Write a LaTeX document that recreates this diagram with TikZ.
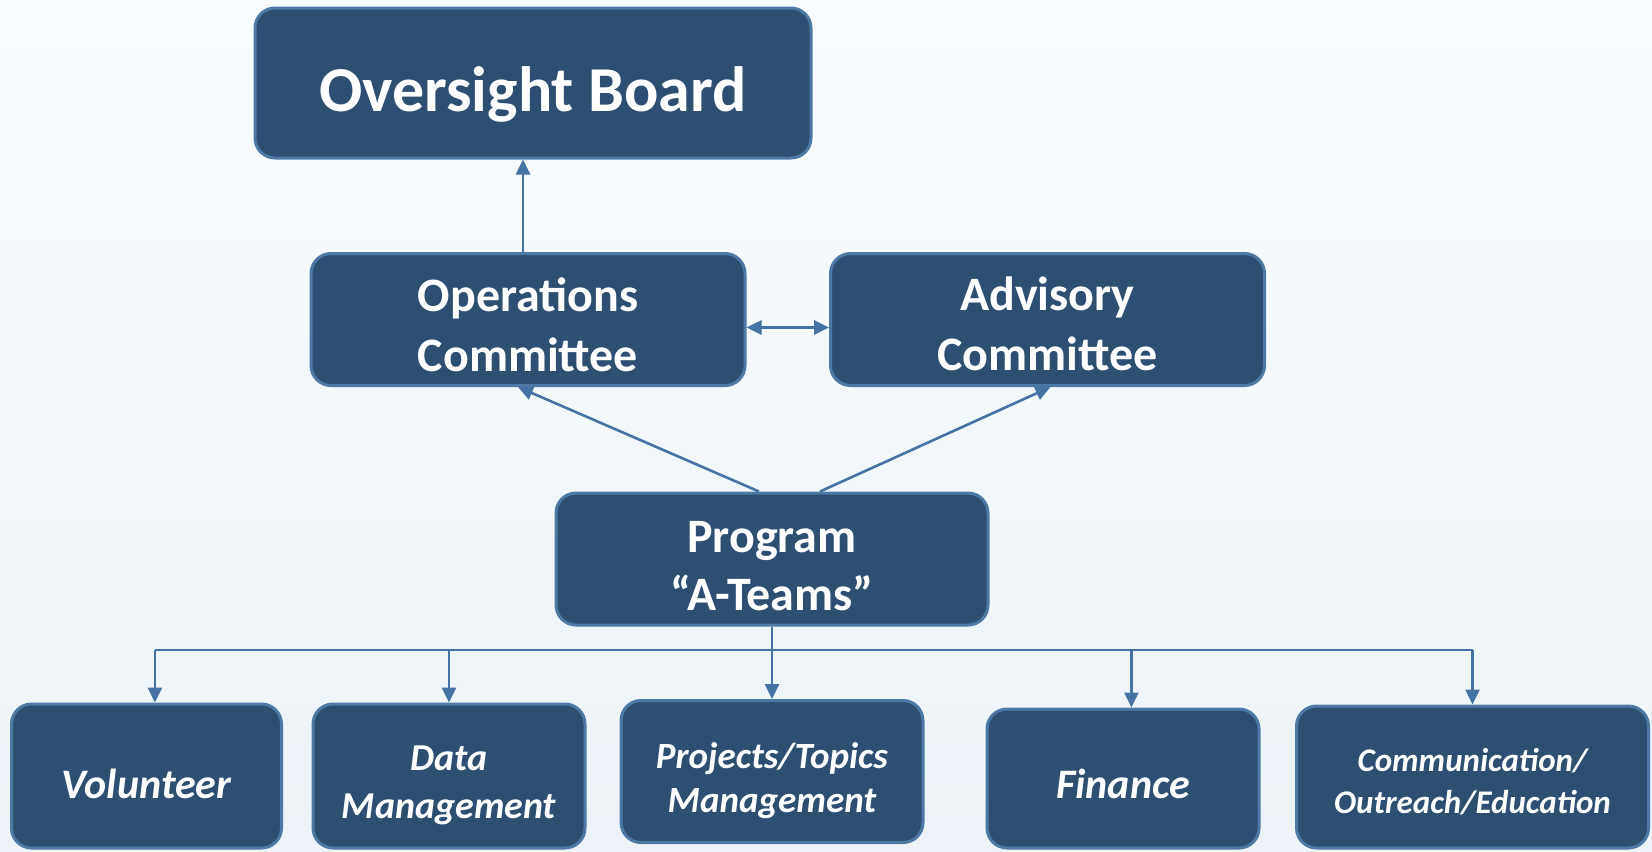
\documentclass[tikz,border=0pt]{standalone}
\usepackage{fontspec}
\setmainfont{Carlito}
\usetikzlibrary{arrows.meta,positioning}
\definecolor{boxfill}{HTML}{2E4F72}
\definecolor{boxline}{HTML}{4E78A5}
\definecolor{linkcol}{HTML}{4673A6}
\definecolor{bgtop}{HTML}{F9FCFE}
\definecolor{bgbot}{HTML}{EDF3F8}

% push the text of a box a little down
\newcommand{\padtop}[2]{\raisebox{0pt}[\dimexpr\height+#1\relax]{#2}}

\tikzset{
  orgbox/.style={draw=boxline, line width=1.5pt, fill=boxfill, rounded corners=10pt,
    text=white, align=center, inner sep=0pt},
  link/.style={draw=linkcol, line width=1.3pt},
  linkarrow/.style={link, -{Triangle[length=7.5pt,width=7pt]}},
  botharrow/.style={link, {Triangle[length=7.5pt,width=7pt]}-{Triangle[length=7.5pt,width=7pt]}},
}

\begin{document}
\begin{tikzpicture}[x=0.5pt,y=0.5pt,yscale=-1]
    % background
    \shade[top color=bgtop, bottom color=bgbot] (0,0) rectangle (1652,851);
    \useasboundingbox (0,0) rectangle (1652,851);

    % top levels
    \node[orgbox, minimum width=278pt, minimum height=75pt, font=\fontsize{32}{38}\selectfont\bfseries] (board) at (533,83) {\padtop{11pt}{Oversight Board}};
    \node[orgbox, minimum width=217pt, minimum height=66pt, font=\fontsize{24}{30}\selectfont\bfseries] (ops) at (528,319.5) {\padtop{4.8pt}{Operations}\\Committee};
    \node[orgbox, minimum width=217pt, minimum height=66pt, font=\fontsize{24}{30}\selectfont\bfseries] (adv) at (1047.5,319.5) {\padtop{4.8pt}{Advisory}\\Committee};
    \node[orgbox, minimum width=216pt, minimum height=66pt, font=\fontsize{24}{29}\selectfont\bfseries] (prog) at (772,559) {\padtop{7.4pt}{Program}\\``A-Teams''};

    % teams
    \node[orgbox, minimum width=135pt, minimum height=72pt, font=\fontsize{21}{26}\selectfont\bfseries\itshape] (vol) at (146.5,776) {\padtop{8.4pt}{Volunteer}};
    \node[orgbox, minimum width=136pt, minimum height=72pt, font=\fontsize{19}{24}\selectfont\bfseries\itshape] (data) at (449,776) {\padtop{9.5pt}{Data}\\Management};
    \node[orgbox, minimum width=151pt, minimum height=71pt, font=\fontsize{18.5}{22}\selectfont\bfseries\itshape] (proj) at (772,771.5) {\padtop{9.5pt}{Projects/Topics}\\Management};
    \node[orgbox, minimum width=136pt, minimum height=69.5pt, font=\fontsize{21}{26}\selectfont\bfseries\itshape] (fin) at (1123,778.5) {\padtop{5.3pt}{Finance}};
    \node[orgbox, minimum width=176pt, minimum height=71pt, font=\fontsize{16.5}{21}\selectfont\bfseries\itshape] (com) at (1472.5,777) {\padtop{4.7pt}{Communication/}\\Outreach/Education};

    % links
    \draw[linkarrow] ([xshift=-2.5pt]ops.north) -- ([xshift=-2.5pt]ops.north |- board.south);
    \draw[botharrow] ([yshift=4pt]ops.east) -- ([yshift=4pt]adv.west);
    \draw[linkarrow] ([xshift=-6.5pt]prog.north) -- ([xshift=-5pt]ops.south);
    \draw[linkarrow] ([xshift=24pt]prog.north) -- ([xshift=1.5pt]adv.south);

    \coordinate (bus) at (772,650);
    \draw[link] (prog.south) -- (bus);
    \draw[link] ([xshift=4.2pt]vol.north |- bus) -- (com.north |- bus);
    \foreach \t/\dx in {vol/4.2pt,data/0pt,proj/0pt,fin/4.2pt,com/0pt}
      \draw[linkarrow] ([xshift=\dx]\t.north |- bus) -- ([xshift=\dx]\t.north);
\end{tikzpicture}
\end{document}
